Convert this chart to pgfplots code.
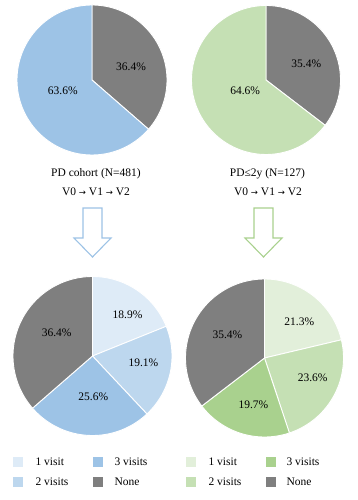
\documentclass[border=0pt]{standalone}
\usepackage{pgfplots}
\pgfplotsset{compat=1.18}
\usepackage{fontspec}
\setmainfont{Liberation Serif}
\newfontfamily\arrfont{DejaVu Sans}
\definecolor{gr}{HTML}{7F7F7F}
\definecolor{bA}{HTML}{DEEBF7}
\definecolor{bB}{HTML}{BDD7EE}
\definecolor{bC}{HTML}{9DC3E6}
\definecolor{gA}{HTML}{E2EFDA}
\definecolor{gB}{HTML}{C5E0B4}
\definecolor{gC}{HTML}{A9D18E}
% slice from cumulative percent #1 to #2 (clockwise from 12 o'clock)
\newcommand{\slice}[3]{\addplot[fill=#3, draw=white, line width=0.9pt, domain=90-3.6*#2:90-3.6*#1, samples=90, variable=\t] ({cos(\t)},{sin(\t)}) -- (axis cs:0,0) -- cycle;}
\pgfplotsset{pie/.style={scale only axis, width=#1, height=#1, hide axis, clip=false,
  xmin=-1,xmax=1,ymin=-1,ymax=1, anchor=center}}
\tikzset{every node/.append style={font=\fontsize{11.5}{13}\selectfont}}
\newcommand{\arr}{ {\arrfont\fontsize{8.5}{10}\selectfont →} }
\begin{document}
\begin{tikzpicture}[font=\fontsize{11.5}{13}\selectfont]
\path[use as bounding box] (0,0) rectangle (357pt,500pt);
% top left
\begin{axis}[pie=150pt, at={(92pt,420pt)}]
\slice{0}{36.4}{gr}
\slice{36.4}{100}{bC}
\node at (axis cs:0.52,0.17) {36.4\%};
\node at (axis cs:-0.39,-0.15) {63.6\%};
\end{axis}
% top right
\begin{axis}[pie=149pt, at={(266pt,420pt)}]
\slice{0}{35.4}{gr}
\slice{35.4}{100}{gB}
\node at (axis cs:0.54,0.22) {35.4\%};
\node at (axis cs:-0.28,-0.14) {64.6\%};
\end{axis}
% bottom left
\begin{axis}[pie=159pt, at={(92.5pt,144pt)}]
\slice{0}{18.9}{bA}
\slice{18.9}{38.0}{bB}
\slice{38.0}{63.6}{bC}
\slice{63.6}{100}{gr}
\node at (axis cs:0.44,0.52) {18.9\%};
\node at (axis cs:0.64,-0.08) {19.1\%};
\node at (axis cs:0.01,-0.51) {25.6\%};
\node at (axis cs:-0.45,0.29) {36.4\%};
\end{axis}
% bottom right
\begin{axis}[pie=158pt, at={(264.5pt,142pt)}]
\slice{0}{21.3}{gA}
\slice{21.3}{44.9}{gB}
\slice{44.9}{64.6}{gC}
\slice{64.6}{100}{gr}
\node at (axis cs:0.44,0.46) {21.3\%};
\node at (axis cs:0.61,-0.25) {23.6\%};
\node at (axis cs:-0.14,-0.59) {19.7\%};
\node at (axis cs:-0.47,0.30) {35.4\%};
\end{axis}
% captions
\node[anchor=base] at (96pt,323pt) {PD cohort (N=481)};
\node[anchor=base] at (96pt,304pt) {V0\arr V1\arr V2};
\node[anchor=base] at (267.5pt,323pt) {PD≤2y (N=127)};
\node[anchor=base] at (268pt,304pt) {V0\arr V1\arr V2};
% arrows
\draw[bC, line width=1.1pt, fill=white, line join=miter]
  (83pt,292pt) -- (102pt,292pt) -- (102pt,262pt) -- (111pt,262pt) -- (92.5pt,243pt)
  -- (74pt,262pt) -- (83pt,262pt) -- cycle;
\draw[gC, line width=1.1pt, fill=white, line join=miter]
  (254pt,292pt) -- (273pt,292pt) -- (273pt,262pt) -- (282pt,262pt) -- (263.5pt,243pt)
  -- (245pt,262pt) -- (254pt,262pt) -- cycle;
% legends
\fill[bA] (13pt,33pt) rectangle (23pt,43pt);
\fill[bB] (13pt,13pt) rectangle (23pt,23pt);
\fill[bC] (93pt,33pt) rectangle (103pt,43pt);
\fill[gr] (93pt,13pt) rectangle (103pt,23pt);
\node[anchor=west] at (32pt,38pt) {1 visit};
\node[anchor=west] at (32pt,18pt) {2 visits};
\node[anchor=west] at (111pt,38pt) {3 visits};
\node[anchor=west] at (111pt,18pt) {None};
\fill[gA] (186pt,33pt) rectangle (196pt,43pt);
\fill[gB] (186pt,13pt) rectangle (196pt,23pt);
\fill[gC] (266pt,33pt) rectangle (276pt,43pt);
\fill[gr] (266pt,13pt) rectangle (276pt,23pt);
\node[anchor=west] at (205pt,38pt) {1 visit};
\node[anchor=west] at (205pt,18pt) {2 visits};
\node[anchor=west] at (283pt,38pt) {3 visits};
\node[anchor=west] at (283pt,18pt) {None};
\end{tikzpicture}
\end{document}
